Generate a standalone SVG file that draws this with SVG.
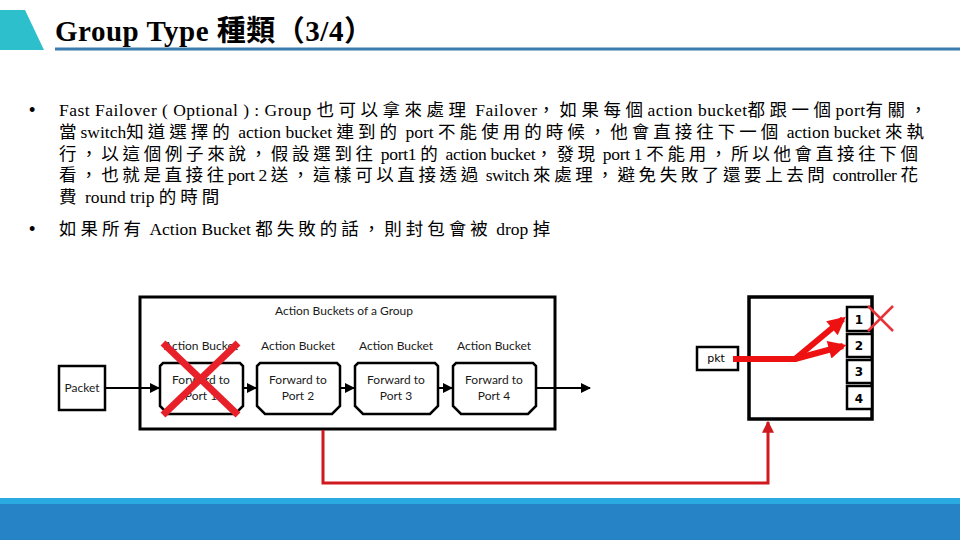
<svg xmlns="http://www.w3.org/2000/svg" width="960" height="540" viewBox="0 0 960 540">
<style>
.title{font-family:'Liberation Serif','Noto Sans CJK TC',serif;font-weight:bold;font-size:29px;letter-spacing:0.5px;fill:#000}
.body{font-family:'Liberation Serif','Noto Sans CJK TC',serif;font-size:17.5px;fill:#000}
.c{letter-spacing:4px}
.dot{font-family:'Liberation Sans',sans-serif;font-size:18px;fill:#000}
.dg{font-family:Lato,'Liberation Sans',sans-serif;font-size:12px;fill:#1a1a1a}
.mid{text-anchor:middle}
.port{font-family:'DejaVu Sans',sans-serif;font-weight:bold;font-size:12px;fill:#000;text-anchor:middle}
.box{fill:#fff;stroke:#000;stroke-width:2.5}
.flow{fill:none;stroke:#000;stroke-width:2}
.redx{stroke:#E8202A;stroke-width:7;stroke-linecap:butt}
.big{fill:none;stroke:#EE1111;stroke-width:6}
</style>
<defs>
<marker id="ab" viewBox="0 0 10 10" refX="9" refY="5" markerWidth="5" markerHeight="5" orient="auto"><path d="M0,0 L10,5 L0,10 Z" fill="#000"/></marker>
<marker id="ar" viewBox="0 0 10 10" refX="8" refY="5" markerWidth="3.6" markerHeight="3" orient="auto"><path d="M0,0 L10,5 L0,10 Z" fill="#EE1111"/></marker>
<marker id="ar2" viewBox="0 0 10 10" refX="9" refY="5" markerWidth="4" markerHeight="4" orient="auto"><path d="M0,0 L10,5 L0,10 Z" fill="#D0191E"/></marker>
<path id="bk" d="M3,0 H80 L83,3 V43 L75,51 H8 L0,43 V3 Z"/>
</defs>

<!-- header -->
<polygon points="0,10 25,10 44,50 0,50" fill="#2DBFCB"/>
<rect x="55" y="47.5" width="905" height="3" fill="#3C7DB0"/>
<text class="title" x="55" y="41">Group Type 種類（3/4）</text>

<!-- body text -->
<g id="bullets">
<text class="dot" x="29" y="116">•</text>
<text class="body" x="59" y="116" textLength="872" lengthAdjust="spacing">Fast Failover ( Optional ) : Group <tspan class="c">也可以拿來處理</tspan> Failover<tspan class="c">，如果每個</tspan>action bucket<tspan class="c">都跟一個</tspan>port<tspan class="c">有關，</tspan></text>
<text class="body" x="59" y="138" textLength="869" lengthAdjust="spacing"><tspan class="c">當</tspan>switch<tspan class="c">知道選擇的</tspan> action bucket <tspan class="c">連到的</tspan> port <tspan class="c">不能使用的時候，他會直接往下一個</tspan> action bucket <tspan class="c">來執</tspan></text>
<text class="body" x="59" y="160" textLength="863" lengthAdjust="spacing"><tspan class="c">行，以這個例子來說，假設選到往</tspan> port1 <tspan class="c">的</tspan> action bucket<tspan class="c">，發現</tspan> port 1 <tspan class="c">不能用，所以他會直接往下個</tspan></text>
<text class="body" x="59" y="181" textLength="863" lengthAdjust="spacing"><tspan class="c">看，也就是直接往</tspan>port 2 <tspan class="c">送，這樣可以直接透過</tspan> switch <tspan class="c">來處理，避免失敗了還要上去問</tspan> controller <tspan class="c">花</tspan></text>
<text class="body" x="59" y="203"><tspan class="c">費</tspan> round trip <tspan class="c">的時間</tspan></text>
<text class="dot" x="29" y="235">•</text>
<text class="body" x="59" y="235"><tspan class="c">如果所有</tspan> Action Bucket <tspan class="c">都失敗的話，則封包會被</tspan> drop <tspan class="c">掉</tspan></text>
</g>

<!-- left diagram -->
<g id="packet">
<rect class="box" x="59" y="366" width="46" height="44"/>
<text class="dg mid" x="82" y="392">Packet</text>
</g>
<g id="group">
<rect x="140" y="297" width="415" height="132" fill="none" stroke="#000" stroke-width="3"/>
<text class="dg mid" x="344" y="315">Action Buckets of a Group</text>
</g>
<g id="bucket1">
<text class="dg mid" x="201" y="350">Action Bucket</text>
<use href="#bk" x="160" y="363" class="box"/>
<text class="dg mid" x="201" y="384">Forward to</text>
<text class="dg mid" x="201" y="400">Port 1</text>
</g>
<g id="bucket2">
<text class="dg mid" x="298" y="350">Action Bucket</text>
<use href="#bk" x="257" y="363" class="box"/>
<text class="dg mid" x="298" y="384">Forward to</text>
<text class="dg mid" x="298" y="400">Port 2</text>
</g>
<g id="bucket3">
<text class="dg mid" x="396" y="350">Action Bucket</text>
<use href="#bk" x="355" y="363" class="box"/>
<text class="dg mid" x="396" y="384">Forward to</text>
<text class="dg mid" x="396" y="400">Port 3</text>
</g>
<g id="bucket4">
<text class="dg mid" x="494" y="350">Action Bucket</text>
<use href="#bk" x="453" y="363" class="box"/>
<text class="dg mid" x="494" y="384">Forward to</text>
<text class="dg mid" x="494" y="400">Port 4</text>
</g>
<g id="cross1">
<line class="redx" x1="163" y1="343" x2="238" y2="415"/>
<line class="redx" x1="238" y1="343" x2="163" y2="415"/>
</g>

<!-- right diagram -->
<g id="switch">
<rect x="749" y="297" width="123" height="122" fill="#fff" stroke="#000" stroke-width="3.5"/>
</g>
<g id="port1"><rect class="box" x="847" y="307" width="25" height="24"/><text class="port" x="859" y="324">1</text></g>
<g id="port2"><rect class="box" x="847" y="334" width="25" height="23"/><text class="port" x="859" y="350">2</text></g>
<g id="port3"><rect class="box" x="847" y="360" width="25" height="23"/><text class="port" x="859" y="376">3</text></g>
<g id="port4"><rect class="box" x="847" y="386" width="25" height="23"/><text class="port" x="859" y="403">4</text></g>
<g id="cross2">
<line x1="868" y1="306" x2="893" y2="331" stroke="#E8323A" stroke-width="2.5"/>
<line x1="893" y1="306" x2="868" y2="331" stroke="#E8323A" stroke-width="2.5"/>
</g>
<g id="pkt">
<rect class="box" x="697" y="347" width="41" height="23"/>
<text class="mid" x="716" y="362" font-family="'DejaVu Sans',sans-serif" font-size="11">pkt</text>
</g>

<!-- connectors -->
<g id="connectors">
<line class="flow" x1="105" y1="388" x2="159" y2="388" marker-end="url(#ab)"/>
<line class="flow" x1="243" y1="388" x2="256" y2="388" marker-end="url(#ab)"/>
<line class="flow" x1="340" y1="388" x2="354" y2="388" marker-end="url(#ab)"/>
<line class="flow" x1="438" y1="388" x2="452" y2="388" marker-end="url(#ab)"/>
<line class="flow" x1="536" y1="388" x2="590" y2="388" marker-end="url(#ab)"/>
<polyline class="big" points="733,359 795,359 843,319" marker-end="url(#ar)"/>
<line class="big" x1="795" y1="359" x2="843" y2="346" marker-end="url(#ar)"/>
<path d="M323,430 V483 H768 V422" fill="none" stroke="#D0191E" stroke-width="3" marker-end="url(#ar2)"/>
</g>

<!-- footer -->
<rect x="0" y="498" width="960" height="6" fill="#29ABE2"/>
<rect x="0" y="504" width="960" height="36" fill="#2683C6"/>
</svg>
